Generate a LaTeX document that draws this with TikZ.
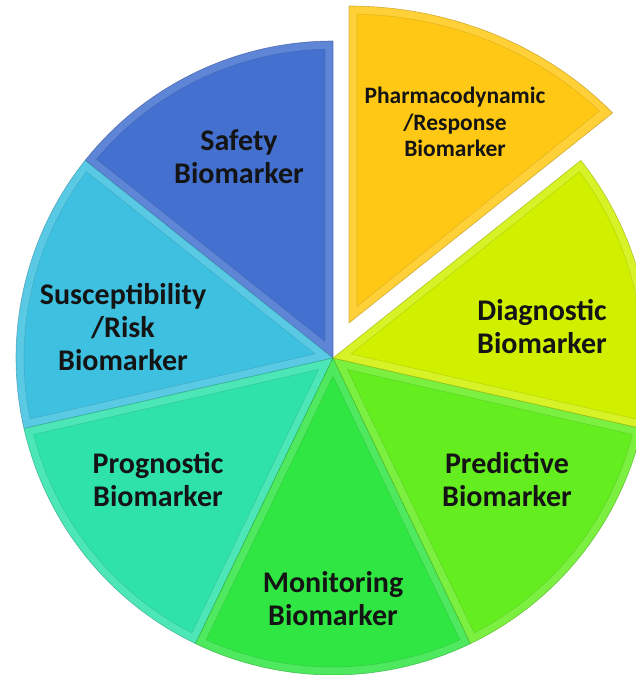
\documentclass[tikz,border=0pt]{standalone}
\usepackage{fontspec}
\setmainfont{Carlito}
\usetikzlibrary{calc}

\definecolor{safetyc}{RGB}{68,112,208}
\definecolor{suscc}{RGB}{62,192,224}
\definecolor{progc}{RGB}{46,226,170}
\definecolor{monic}{RGB}{48,230,66}
\definecolor{predc}{RGB}{100,238,32}
\definecolor{diagc}{RGB}{208,240,0}
\definecolor{pharmc}{RGB}{255,200,20}

% One bevelled pie slice around the current origin:
% #1 colour, #2 start angle, #3 end angle
\newcommand\bmslice[3]{%
  \fill[#1] (0,0) -- (#2:317pt) arc[start angle=#2, end angle=#3, radius=317pt] -- cycle;
  \fill[white, opacity=.15, even odd rule]
    (0,0) -- (#2:317pt) arc[start angle=#2, end angle=#3, radius=317pt] -- cycle
    ({(#2+#3)/2}:18.4pt) -- ({#2+1.48}:309pt)
      arc[start angle={#2+1.48}, end angle={#3-1.48}, radius=309pt] -- cycle;
  \draw[#1!75!black, line width=.6pt, opacity=.4]
    ({(#2+#3)/2}:18.4pt) -- ({#2+1.48}:309pt)
      arc[start angle={#2+1.48}, end angle={#3-1.48}, radius=309pt] -- cycle;
  \draw[#1!70!black, line width=.6pt, opacity=.6]
    (0,0) -- (#2:317pt) arc[start angle=#2, end angle=#3, radius=317pt] -- cycle;
}

\tikzset{
  bmlabel/.style={align=center, text=black!92,
    font=\fontsize{30}{33}\selectfont\bfseries},
  bmsmall/.style={align=center, text=black!92,
    font=\fontsize{23.5}{26.7}\selectfont\bfseries}
}

\begin{document}
\begin{tikzpicture}[x=1pt, y=1pt]
  \useasboundingbox (0,0) rectangle (636,-675);
  \clip (0,0) rectangle (636,-675);

  \coordinate (C) at (333,-358);
  \coordinate (V) at (349,-323);

  % the six slices that stay in place
  \begin{scope}[shift={(C)}]
    \bmslice{safetyc}{90}{141.43}
    \bmslice{suscc}{141.43}{192.86}
    \bmslice{progc}{192.86}{244.29}
    \bmslice{monic}{244.29}{295.71}
    \bmslice{predc}{295.71}{347.14}
    \bmslice{diagc}{347.14}{398.57}
  \end{scope}

  % the pulled-out slice
  \begin{scope}[shift={(V)}]
    \fill[pharmc] (0,0) -- (0,317)
      arc[start angle=90, end angle=41.5, x radius=352pt, y radius=317pt] -- cycle;
    \fill[white, opacity=.15, even odd rule]
      (0,0) -- (0,317)
        arc[start angle=90, end angle=41.5, x radius=352pt, y radius=317pt] -- cycle
      (64.25:18.4pt) -- (8,308.9)
        arc[start angle=88.67, end angle=43.3, x radius=344pt, y radius=309pt] -- cycle;
    \draw[pharmc!75!black, line width=.6pt, opacity=.4]
      (64.25:18.4pt) -- (8,308.9)
        arc[start angle=88.67, end angle=43.3, x radius=344pt, y radius=309pt] -- cycle;
    \draw[pharmc!70!black, line width=.6pt, opacity=.6]
      (0,0) -- (0,317)
        arc[start angle=90, end angle=41.5, x radius=352pt, y radius=317pt] -- cycle;
  \end{scope}

  % labels
  \node[bmsmall] (pharm) at (455,-122) {Pharmacodynamic\\/Response\\Biomarker};
  \node[bmlabel] (safety) at (239,-157) {Safety\\Biomarker};
  \node[bmlabel] (susc) at (123,-327) {Susceptibility\\/Risk\\Biomarker};
  \node[bmlabel] (prog) at (158,-480) {Prognostic\\Biomarker};
  \node[bmlabel] (moni) at (333,-599) {Monitoring\\Biomarker};
  \node[bmlabel] (pred) at (507,-480) {Predictive\\Biomarker};
  \node[bmlabel] (diag) at (542,-327) {Diagnostic\\Biomarker};
\end{tikzpicture}
\end{document}
